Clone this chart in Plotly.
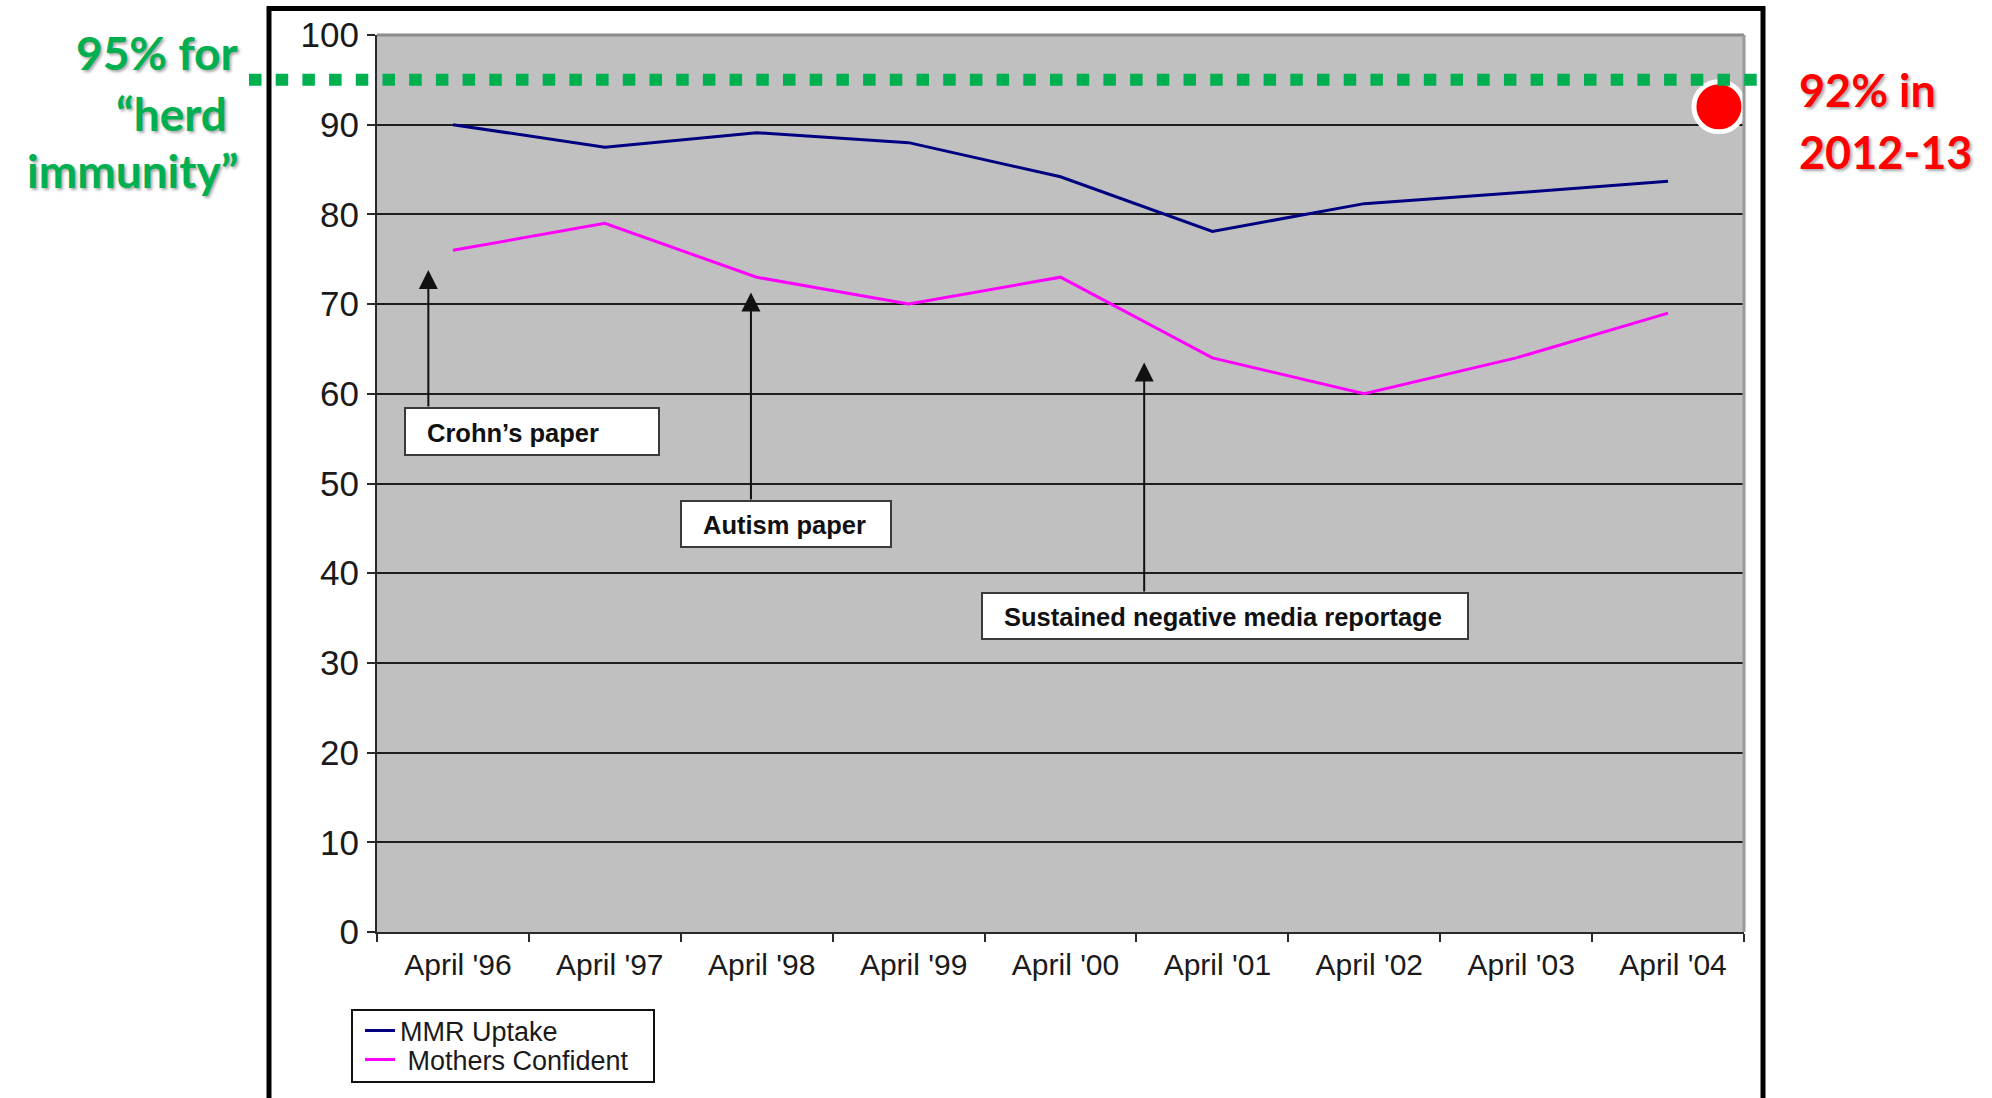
import plotly.graph_objects as go

# ---- data -------------------------------------------------------------
periods = ["April '96", "April '97", "April '98", "April '99", "April '00",
           "April '01", "April '02", "April '03", "April '04"]
mmr_uptake = [90.0, 87.5, 89.1, 88.0, 84.2, 78.1, 81.2, 82.4, 83.7]
mothers_confident = [76.0, 79.0, 73.0, 70.0, 73.0, 64.0, 60.0, 64.0, 69.0]
herd_threshold = 95
recent_uptake = 92
event_labels = ["Crohn\u2019s paper", "Autism paper", "Sustained negative media reportage"]

# ---- page geometry (pixels) --------------------------------------------
W_PAGE, H_PAGE = 1992, 1098
L, R, T, B = 377, 1744, 35, 932          # plot area edges
PW, PH = R - L, B - T


def px_x(px):
    return (px - L) / PW


def px_y(py):
    return (B - py) / PH


def val_to_py(v):
    return B - PH * v / 100.0


FONT = "Liberation Sans, Arial, sans-serif"
CALLOUT_FONT = "Lato, Open Sans, sans-serif"
idx = list(range(len(periods)))

fig = go.Figure()

fig.add_trace(go.Scatter(
    x=idx, y=mmr_uptake, mode="lines", name="MMR Uptake", legend="legend",
    line=dict(color="#000080", width=3)))
fig.add_trace(go.Scatter(
    x=idx, y=mothers_confident, mode="lines", name="\u00a0Mothers Confident",
    legend="legend2", line=dict(color="#FF00FF", width=3)))

# latest uptake marker, right edge of the chart
fig.add_trace(go.Scatter(
    x=[len(periods) - 1 + 0.335], y=[recent_uptake], mode="markers",
    showlegend=False, cliponaxis=False, hoverinfo="skip",
    marker=dict(color="#FF0000", size=50, line=dict(color="white", width=5))))

shapes = []
annotations = []

# top / right border of the plotting area
shapes.append(dict(type="line", xref="paper", yref="paper", x0=0, x1=1, y0=1, y1=1,
                   line=dict(color="#8c8c8c", width=3), layer="above"))
shapes.append(dict(type="line", xref="paper", yref="paper", x0=1, x1=1, y0=0, y1=1,
                   line=dict(color="#9a9a9a", width=3), layer="above"))

# outer black frame
shapes.append(dict(type="rect", xref="paper", yref="paper",
                   x0=px_x(269), x1=px_x(1763), y0=px_y(1115), y1=px_y(8.5),
                   line=dict(color="black", width=5), fillcolor="rgba(0,0,0,0)",
                   layer="above"))

# frame around the two legend rows
shapes.append(dict(type="rect", xref="paper", yref="paper",
                   x0=px_x(352), x1=px_x(654), y0=px_y(1082), y1=px_y(1010),
                   line=dict(color="#111111", width=2), fillcolor="white",
                   layer="below"))

# event call-outs: box (px), arrow x (category index), arrow tip (value)
callouts = [
    dict(box=(405, 659, 408, 455), ax=-0.162, tip=73.8),
    dict(box=(681, 891, 501, 547), ax=1.962, tip=71.3),
    dict(box=(982, 1468, 593, 639), ax=4.551, tip=63.5),
]
for label, c in zip(event_labels, callouts):
    x0, x1, y0, y1 = c["box"]
    shapes.append(dict(type="rect", xref="paper", yref="paper",
                       x0=px_x(x0), x1=px_x(x1), y0=px_y(y1), y1=px_y(y0),
                       fillcolor="white", line=dict(color="#3a3a3a", width=2),
                       layer="above"))
    annotations.append(dict(
        xref="paper", yref="paper", x=px_x(x0 + 20), y=px_y((y0 + y1) / 2 + 1),
        xanchor="left", yanchor="middle", text=label, showarrow=False,
        font=dict(family=FONT, size=25.5, color="#111111", weight=700)))
    annotations.append(dict(
        xref="x", yref="y", x=c["ax"], y=c["tip"], text="", showarrow=True,
        axref="pixel", ayref="pixel", ax=0, ay=y0 - val_to_py(c["tip"]),
        arrowhead=2, arrowsize=1.9, arrowwidth=2, arrowcolor="#111111",
        standoff=0, startstandoff=0))

# herd immunity threshold line (drawn over the marker)
shapes.append(dict(type="line", xref="paper", yref="y",
                   x0=px_x(249), x1=px_x(1760), y0=herd_threshold, y1=herd_threshold,
                   line=dict(color="#00B050", width=12, dash="12.5px,14.2px"),
                   layer="above"))

# side captions, one annotation per line
shadow = "2px 2px 3px rgba(0,0,0,0.35)"
green_lines = [(f"{herd_threshold}% for", 52), ("\u201cherd\u00a0", 113), ("immunity\u201d", 171)]
for txt, cy in green_lines:
    annotations.append(dict(
        xref="paper", yref="paper", x=px_x(240), y=px_y(cy),
        xanchor="right", yanchor="middle", align="right", showarrow=False,
        text=txt,
        font=dict(family=CALLOUT_FONT, size=46, color="#00B050",
                  weight=700, shadow=shadow)))
red_lines = [(f"{recent_uptake}% in", 90), ("2012-13", 152)]
for txt, cy in red_lines:
    annotations.append(dict(
        xref="paper", yref="paper", x=px_x(1797), y=px_y(cy),
        xanchor="left", yanchor="middle", align="left", showarrow=False,
        text=txt,
        font=dict(family=CALLOUT_FONT, size=45, color="#FF0000",
                  weight=700, shadow=shadow)))

legend_style = dict(
    xanchor="left", yanchor="middle", bgcolor="rgba(0,0,0,0)", borderwidth=0,
    font=dict(family=FONT, size=27, color="#1a1a1a"), itemwidth=30)

fig.update_layout(
    width=W_PAGE, height=H_PAGE,
    margin=dict(l=L, r=W_PAGE - R, t=T, b=H_PAGE - B, pad=0, autoexpand=False),
    paper_bgcolor="white", plot_bgcolor="#C0C0C0",
    font=dict(family=FONT, color="#1a1a1a"),
    shapes=shapes, annotations=annotations,
    showlegend=True,
    legend=dict(x=px_x(360), y=px_y(1031), **legend_style),
    legend2=dict(x=px_x(360), y=px_y(1060), **legend_style),
    xaxis=dict(
        range=[-0.5, len(periods) - 0.5], tickmode="array", tickvals=idx,
        ticktext=periods, ticks="", showgrid=False, zeroline=False,
        showline=True, linecolor="#2a2a2a", linewidth=2,
        tickfont=dict(family=FONT, size=30, color="#1a1a1a"),
        ticklabelstandoff=5, ticklabelshift=5,
        minor=dict(tickmode="array",
                   tickvals=[i - 0.5 for i in range(len(periods) + 1)],
                   ticks="outside", ticklen=8, tickwidth=2, tickcolor="#2a2a2a",
                   showgrid=False)),
    yaxis=dict(
        range=[0, 100], tickmode="linear", tick0=0, dtick=10,
        ticks="outside", ticklen=8, tickwidth=2, tickcolor="#2a2a2a",
        showgrid=True, gridcolor="#1e1e1e", gridwidth=2, zeroline=False,
        showline=True, linecolor="#2a2a2a", linewidth=2,
        tickfont=dict(family=FONT, size=35, color="#1a1a1a"),
        ticklabelstandoff=1),
)

fig.write_html("out.html")
